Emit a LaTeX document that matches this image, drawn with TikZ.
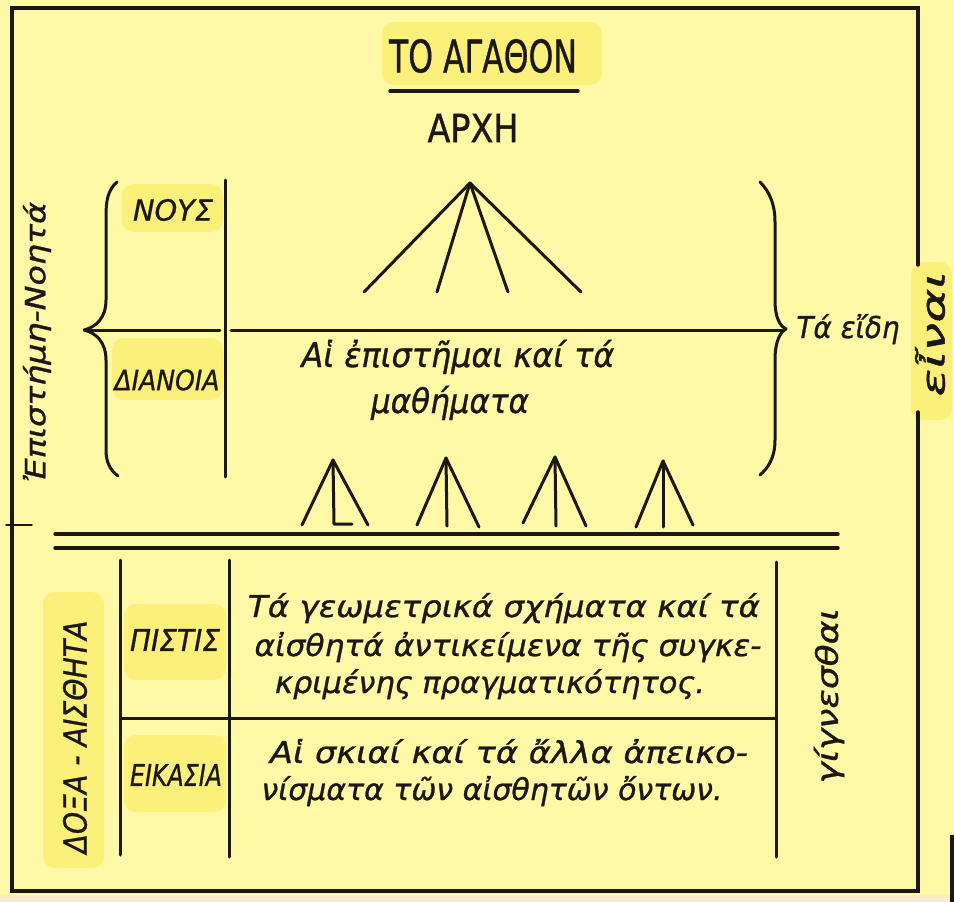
\documentclass[tikz,border=0pt]{standalone}
\usepackage{fontspec}
\usepackage{graphicx}
\setmainfont[FakeBold=0.9]{DejaVu Sans}
\definecolor{bg}{RGB}{253,249,166}
\definecolor{hl}{RGB}{250,237,108}
\definecolor{ink}{RGB}{28,24,16}
\definecolor{paper}{RGB}{248,237,200}
\newcommand\fitto[2]{\resizebox{#1}{\height}{#2}}
\newcommand\fsz[1]{\fontsize{#1}{#1}\selectfont}
\begin{document}
\begin{tikzpicture}[x=1pt,y=-1pt,
  lbl/.style={inner sep=0pt, text=ink},
  hlbox/.style={fill=hl, fill opacity=0.75, rounded corners=12pt, draw=none},
  rule/.style={draw=ink, line width=3pt, line cap=round, line join=round},
  frame/.style={draw=ink, line width=3.4pt, line cap=round}]
\useasboundingbox (0,0) rectangle (954,902);
\fill[bg] (0,0) rectangle (954,902);
\fill[paper] (0,895) rectangle (954,902);
\fill[ink] (950,835) rectangle (954,902);
% highlights
\fill[hlbox] (382,22) rectangle (602,85);
\fill[hlbox] (122,184) rectangle (223,232);
\fill[hlbox] (112,338) rectangle (223,400);
\fill[hlbox] (124,604) rectangle (226,680);
\fill[hlbox] (124,735) rectangle (226,812);
\fill[hlbox] (43,592) rectangle (104,868);
\fill[hlbox] (911,262) rectangle (952,420);
% frame
\coordinate (TL) at (12,8);
\coordinate (TR) at (918,8);
\coordinate (BL) at (12,891);
\coordinate (BR) at (918,891);
\coordinate (R1) at (918,265);
\coordinate (R2) at (918,412);
\draw[frame] (R1) -- (TR) -- (TL) -- (BL) -- (BR) -- (R2);
\coordinate (tk1) at (6,525);
\coordinate (tk2) at (32,525);
\draw[rule, line width=1.6pt] (tk1) -- (tk2);
% title
\node[lbl] (agathon) at (483,56) {\fsz{45}\fitto{188pt}{ΤΟ ΑΓΑΘΟΝ}};
\coordinate (u1) at (390,91);
\coordinate (u2) at (578,91);
\draw[rule, line width=3.4pt] (u1) -- (u2);
\node[lbl] (arche) at (473,128) {\fsz{39}\fitto{91pt}{ΑΡΧΗ}};
% big fan
\coordinate (apex) at (470,183);
\coordinate (b1) at (364,292);
\coordinate (b2) at (437,292);
\coordinate (b3) at (508,292);
\coordinate (b4) at (581,292);
\draw[rule] (b1) -- (apex) -- (b4);
\draw[rule] (b2) -- (apex) -- (b3);
% left brace
\coordinate (lbt) at (117,182);
\coordinate (lbtip) at (84,330);
\coordinate (lbb) at (118,476);
\draw[rule] (lbt) .. controls (108,190) and (106,200) .. (106,216) -- (106,300)
  .. controls (106,318) and (96,327) .. (lbtip)
  .. controls (96,333) and (106,342) .. (106,360) -- (106,450)
  .. controls (106,462) and (110,470) .. (lbb);
% right brace
\coordinate (rbt) at (760,182);
\coordinate (rbtip) at (786,329);
\coordinate (rbb) at (760,475);
\draw[rule] (rbt) .. controls (770,192) and (775,205) .. (775,222) -- (775,300)
  .. controls (775,318) and (780,326) .. (rbtip)
  .. controls (780,332) and (775,342) .. (775,360) -- (775,440)
  .. controls (775,458) and (768,468) .. (rbb);
% upper vertical and horizontal lines
\coordinate (v1t) at (225,180);
\coordinate (v1b) at (225,477);
\draw[rule] (v1t) -- (v1b);
\coordinate (h1a) at (88,330);
\coordinate (h1b) at (220,330);
\coordinate (h1c) at (231,330);
\coordinate (h1d) at (782,330);
\draw[rule] (h1a) -- (h1b);
\draw[rule] (h1c) -- (h1d);
% labels upper
\node[lbl] (nous) at (173,210) {\fsz{29}\itshape\fitto{80pt}{ΝΟΥΣ}};
\node[lbl] (dianoia) at (167,380) {\fsz{28}\itshape\fitto{105pt}{ΔΙΑΝΟΙΑ}};
\node[lbl, anchor=base] (eide) at (848,338) {\fsz{30}\itshape\fitto{103pt}{Τά εἴδη}};
\node[lbl, anchor=base] (epist1) at (458,367) {\fsz{34}\itshape\fitto{313pt}{Αἱ ἐπιστῆμαι καί τά}};
\node[lbl, anchor=base] (epist2) at (450,413) {\fsz{34}\itshape\fitto{158pt}{μαθήματα}};
% vertical texts
\node[lbl, rotate=90] (episteme) at (37,342) {\fsz{28}\itshape\fitto{280pt}{Ἐπιστήμη-Νοητά}};
\node[lbl, rotate=90] (einai) at (930,334) {\fsz{32}\itshape\fitto{125pt}{εἶναι}};
\node[lbl, rotate=90] (doxa) at (75,737) {\fsz{32}\itshape\fitto{233pt}{ΔΟΞΑ - ΑΙΣΘΗΤΑ}};
\node[lbl, rotate=90] (gignesthai) at (829,696) {\fsz{30}\itshape\fitto{175pt}{γίγνεσθαι}};
% small fans
\coordinate (s1) at (333,460);
\coordinate (s1l) at (302,525);
\coordinate (s1m) at (334,524);
\coordinate (s1f) at (352,524);
\coordinate (s1r) at (368,525);
\draw[rule] (s1l) -- (s1) -- (s1r);
\draw[rule] (s1) -- (s1m) -- (s1f);
\coordinate (s2) at (446,458);
\coordinate (s2l) at (417,525);
\coordinate (s2m) at (447,526);
\coordinate (s2r) at (479,527);
\draw[rule] (s2l) -- (s2) -- (s2r);
\draw[rule] (s2) -- (s2m);
\coordinate (s3) at (555,457);
\coordinate (s3l) at (523,523);
\coordinate (s3m) at (556,526);
\coordinate (s3r) at (586,526);
\draw[rule] (s3l) -- (s3) -- (s3r);
\draw[rule] (s3) -- (s3m);
\coordinate (s4) at (663,461);
\coordinate (s4l) at (636,527);
\coordinate (s4m) at (663,527);
\coordinate (s4r) at (693,525);
\draw[rule] (s4l) -- (s4) -- (s4r);
\draw[rule] (s4) -- (s4m);
% double line
\coordinate (d1a) at (55,534);
\coordinate (d1b) at (838,534);
\coordinate (d2a) at (55,548);
\coordinate (d2b) at (838,548);
\draw[rule, line width=3.4pt] (d1a) -- (d1b);
\draw[rule, line width=3.4pt] (d2a) -- (d2b);
% lower section
\coordinate (w1t) at (120,560);
\coordinate (w1b) at (120,855);
\coordinate (w2t) at (229,560);
\coordinate (w2b) at (229,857);
\coordinate (w3t) at (776,562);
\coordinate (w3b) at (776,857);
\draw[rule] (w1t) -- (w1b);
\draw[rule] (w2t) -- (w2b);
\draw[rule] (w3t) -- (w3b);
\coordinate (sepa) at (122,718);
\coordinate (sepb) at (776,718);
\draw[rule] (sepa) -- (sepb);
\node[lbl] (pistis) at (175,640) {\fsz{30}\itshape\fitto{90pt}{ΠΙΣΤΙΣ}};
\node[lbl] (eikasia) at (176,775) {\fsz{30}\itshape\fitto{92pt}{ΕΙΚΑΣΙΑ}};
\node[lbl, anchor=base] (p1) at (504,617) {\fsz{30}\itshape\fitto{512pt}{Τά γεωμετρικά σχήματα καί τά}};
\node[lbl, anchor=base] (p2) at (508,656) {\fsz{30}\itshape\fitto{507pt}{αἰσθητά ἀντικείμενα τῆς συγκε-}};
\node[lbl, anchor=base] (p3) at (490,693) {\fsz{30}\itshape\fitto{430pt}{κριμένης πραγματικότητος.}};
\node[lbl, anchor=base] (e1) at (509,763) {\fsz{30}\itshape\fitto{478pt}{Αἱ σκιαί καί τά ἄλλα ἀπεικο-}};
\node[lbl, anchor=base] (e2) at (492,800) {\fsz{30}\itshape\fitto{461pt}{νίσματα τῶν αἰσθητῶν ὄντων.}};
\end{tikzpicture}
\end{document}
